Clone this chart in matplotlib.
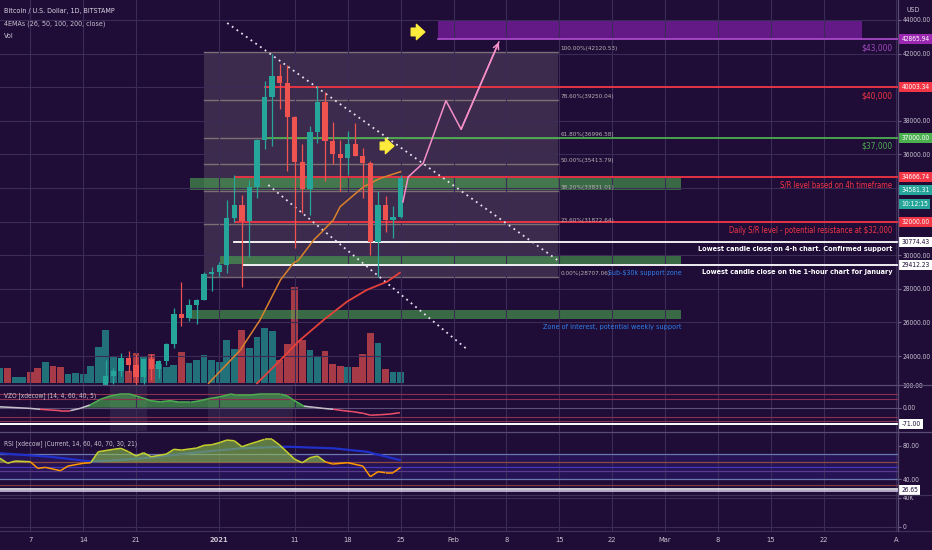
import numpy as np
import matplotlib
matplotlib.use("Agg")
import matplotlib.pyplot as plt
from matplotlib.collections import LineCollection
from matplotlib.lines import Line2D
from matplotlib.transforms import blended_transform_factory as blend

BG = "#1f0c37"; GRID = "#3a2b57"; TXT = "#c9c3d1"
UP, DN = "#26a69a", "#ef5350"
RED, GREEN, PURPLE, BLUE = "#f23645", "#4caf50", "#9c27b0", "#2f80ed"
plt.rcParams["font.family"] = ["DejaVu Sans"]
plt.rcParams["font.stretch"] = "condensed"

# x = days from 1 Jan 2021
candle_days = list(range(-15, 25))
opens  = [21340, 22800, 23130, 23860, 23480, 22740, 23820, 23250, 23720, 24700, 26480, 26280, 27030, 27360,
          28880, 28990, 29400, 32200, 33000, 32030, 34030, 36850, 39400, 40670, 40240, 38240, 35550, 33950,
          37350, 39100, 36770, 36000, 35800, 36600, 35900, 35500, 30800, 33000, 32100, 32300]
highs  = [23770, 23270, 24170, 24290, 24100, 23850, 24100, 23770, 24750, 26870, 28400, 27400, 27370, 28990,
          29300, 29600, 33300, 34800, 33600, 34500, 36900, 40360, 41950, 41380, 41350, 38260, 36600, 37700,
          40100, 39700, 37950, 36850, 37400, 37850, 36400, 35600, 33850, 33500, 32950, 34800]
lows   = [21230, 22350, 22800, 23070, 22020, 22350, 22600, 22700, 23440, 24500, 25800, 26100, 25900, 27320,
          27850, 28700, 28950, 32000, 28130, 29900, 33400, 36300, 36500, 38720, 35000, 30400, 32500, 32400,
          36700, 34400, 35400, 33850, 34800, 35900, 33400, 30000, 28700, 31400, 31000, 32200]
closes = [22800, 23130, 23860, 23480, 22740, 23820, 23250, 23720, 24700, 26480, 26280, 27030, 27360, 28880,
          28990, 29400, 32200, 33000, 32030, 34030, 36850, 39400, 40670, 40240, 38240, 35550, 33950, 37350,
          39100, 36770, 36000, 35800, 36600, 35900, 35500, 30800, 33000, 32100, 32300, 34581.31]

vol_days = list(range(-29, 25))
volume = [7.3, 7.3, 3.2, 3.2, 5.3, 7.3, 10.7, 8.5, 7.8, 4.5, 5.2, 4.5, 8.5, 17.8, 26.5, 13.5, 11.5, 6.2, 15.2,
          12.8, 14.5, 9.3, 8.2, 9.0, 15.7, 9.8, 11.5, 14.0, 11.5, 10.7, 21.5, 16.8, 26.5, 17.5, 22.8, 27.3,
          26.2, 11.5, 19.3, 47.8, 21.5, 16.5, 13.2, 16.0, 9.5, 8.5, 7.8, 8.2, 14.5, 25.2, 20.2, 6.8, 5.7, 5.7]
vol_up = [1, 0, 1, 1, 0, 0, 1, 0, 0, 1, 1, 1, 1, 1, 1, 1, 1, 0, 0, 1, 0, 1, 1, 1, 0, 1, 1, 1, 1,
          1, 1, 1, 0, 1, 1, 1, 1, 0, 0, 0, 0, 1, 1, 0, 0, 0, 1, 0, 0, 0, 1, 0, 1, 1]

ema_a_days = [-1.4, 2.8, 5.4, 8.1, 9.8, 10.5, 12.5, 13.4, 15.1, 16.0, 19.1, 21.3, 24.0]
ema_a = [22375, 24357, 26143, 28524, 29518, 29714, 30905, 31304, 32095, 32887, 34077, 34577, 34970]
ema_b_days = [5.0, 8.1, 10.7, 13.8, 16.9, 19.5, 22.2, 23.9]
ema_b = [22375, 23762, 24952, 26143, 27232, 27929, 28423, 28958]

proj_days = [24.3, 25.0, 27.0, 30.0, 32.0, 37.0]
proj_px = [33167, 34655, 35488, 39196, 37494, 42690]

trend_hi_days, trend_hi_px = [1.06, 45.1], [43821, 29595]
trend_lo_days, trend_lo_px = [6.5, 32.9], [34179, 24357]

fib_pct = ["100.00%", "78.60%", "61.80%", "50.00%", "38.20%", "23.60%", "0.00%"]
fib_px = [42120.53, 39250.04, 36996.58, 35413.79, 33831.01, 31872.64, 28707.06]
fib_start, fib_end = -2.0, 44.8

zone_tops = [34600, 30000, 26750]
zone_bots = [33900, 29450, 26200]
zone_starts = [-3.8, 0.1, -3.8]
zone_end = 61.1

level_px = [40003.34, 37000, 34666.74, 32000, 30774.43, 29412.23]
level_start = [6.1, 6.5, 2.1, 2.1, 2.0, 3.1]
level_col = [RED, GREEN, RED, RED, "white", "white"]
level_text = ["$40,000", "$37,000", "S/R level based on 4h timeframe",
              "Daily S/R level - potential resistance at $32,000",
              "Lowest candle close on 4-h chart. Confirmed support",
              "Lowest candle close on the 1-hour chart for January"]
target_top, target_bot, target_start, target_end = 44000, 42865.94, 29.0, 85.0
arrow_days, arrow_px = [26.3, 22.2], [43286, 36500]

vzo_days = [-29, -25, -23.7, -21, -19.7, -18.4, -17.1, -15.7, -14.4, -13.1, -11.8, -10.4, -9.1, -7.8, -6.5,
            -5.2, -3.8, -2.5, -1.2, 0.1, 1.5, 2.3, 4.1, 5.4, 6.7, 8.1, 9.0, 9.8, 11.2, 12.5, 13.8, 15.1,
            16.4, 17.8, 19.1, 20.0, 21.3, 22.6, 23.9]
vzo = [4, -3, -7, -13, -13, -3, 12, 37, 52, 60, 60, 46, 31, 26, 31, 24, 24, 31, 41, 48, 60, 56, 56, 60,
       60, 60, 52, 34, 7, 2, -3, -7, -13, -18, -25, -33, -31, -28, -22]
vzo_levels = [60, 40, 0, -40, -60]

rsi_days = [-29, -28, -27, -25, -24, -23, -21, -20, -18, -17, -16, -14, -13, -12, -11, -10, -9, -7, -6, -5,
            -3, -2, -1, 0, 1, 2, 3, 4, 5, 6, 7, 8, 10, 11, 12, 13, 14, 15, 17, 19, 20, 21, 22, 23, 24]
rsi = [64.9, 58.9, 61.6, 60.8, 52.8, 54, 50, 55.6, 58.9, 59.6, 72.8, 75.7, 76.9, 72.8, 67.6, 71.6, 66.8,
       70, 75.7, 74.8, 77.2, 80.5, 81.2, 83.6, 86.8, 86, 78.8, 82, 84.8, 87.7, 87.7, 80.8, 63.7, 59.6, 65.6,
       67.6, 60.8, 58, 59.6, 55.6, 42.8, 48.8, 47.6, 47.6, 54]
rsi_ma_days = [-29, -22.4, -16.7, -10, -3, 3, 9, 15.1, 19.5, 23.9]
rsi_ma = [70.9, 66.8, 60.8, 65, 72, 77, 78.8, 76.9, 72.8, 62.8]

tick_days = [-25, -18, -11, 0, 10, 17, 24, 31, 38, 45, 52, 59, 66, 73, 80, 89.6]
tick_labels = ["7", "14", "21", "2021", "11", "18", "25", "Feb", "8", "15", "22", "Mar", "8", "15", "22", "A"]

W, H = 932, 550
def rect(top, bottom):
    return [0, 1 - bottom / H, 898 / W, (bottom - top) / H]

fig = plt.figure(figsize=(W / 100, H / 100), dpi=100, facecolor=BG)
axv = fig.add_axes(rect(0, 385), facecolor=BG)
ax = fig.add_axes(rect(0, 385), sharex=axv)
ax.patch.set_alpha(0)
axz = fig.add_axes(rect(385, 431), sharex=axv, facecolor=BG)
axr = fig.add_axes(rect(431, 492), sharex=axv, facecolor=BG)
axb = fig.add_axes(rect(492, 531), sharex=axv, facecolor=BG)

for a in (axv, ax, axz, axr, axb):
    for s in a.spines.values():
        s.set_visible(False)
    a.set_xticks(tick_days)
    a.tick_params(axis="x", length=0, labelbottom=False)
    a.yaxis.tick_right()
    a.tick_params(axis="y", colors="#6d6283", labelcolor=TXT, labelsize=4.8, length=2.3, pad=0.8)
    if a is not axv:
        a.grid(axis="x", color=GRID, lw=0.8)
axv.set_yticks([])
axv.set_xlim(-29, 89.8)
axv.set_ylim(-1, 191.5)

# volume
vcols = [UP if u else DN for u in vol_up]
axv.bar(vol_days, volume, width=0.9, color=vcols, alpha=0.66, lw=0)

# price pane
ax.set_ylim(22274, 45190)
ax.set_yticks(range(24000, 44001, 2000))
ax.set_yticklabels([f"{v:.2f}" for v in range(24000, 44001, 2000)])
ax.grid(axis="y", color=GRID, lw=0.8)

ax.fill_between([fib_start, fib_end], fib_px[-1], fib_px[0], color="#a89a9c", alpha=0.22, lw=0, zorder=1)
for pct, p in zip(fib_pct, fib_px):
    ax.plot([fib_start, fib_end], [p, p], color="#8f8080", lw=1, alpha=0.8, zorder=1.2)
    ax.text(fib_end + 0.4, p + 60, f"{pct}({p:.2f})", color="#b9b0b4", fontsize=4.6, va="bottom", ha="left")
ax.text(51.5, fib_px[-1] + 60, "Sub-$30k support zone", color=BLUE, fontsize=5.0, va="bottom", ha="left")

for t, b, s in zip(zone_tops, zone_bots, zone_starts):
    ax.fill_between([s, zone_end], b, t, color=GREEN, alpha=0.58, lw=0, zorder=1.5)
ax.text(zone_end, 25700, "Zone of interest, potential weekly support", color=BLUE, fontsize=5.2,
        va="center", ha="right")

ax.fill_between([target_start, target_end], target_bot, target_top, color="#7b1fa2", alpha=0.75, lw=0)
ax.plot([target_start, 89.8], [target_bot, target_bot], color="#b04fd0", lw=1.2)
tr = blend(ax.transAxes, ax.transData)
ax.text(0.994, target_bot - 250, "$43,000", transform=tr, color="#a24bc0", fontsize=6.0, ha="right", va="top")

for p, s, c, t in zip(level_px, level_start, level_col, level_text):
    ax.plot([s, 89.8], [p, p], color=c, lw=1.3, zorder=2)
    if c == "white":
        fw, fs = "bold", 5.2
    elif t.startswith("$"):
        fw, fs = "normal", 6.0
    else:
        fw, fs = "normal", 5.5
    ax.text(0.994, p - 250, t, transform=tr, color=c, fontsize=fs, ha="right", va="top", fontweight=fw)

ax.plot(trend_hi_days, trend_hi_px, color="#e8e0f0", lw=1.3, ls=(0, (1, 2.2)))
ax.plot(trend_lo_days, trend_lo_px, color="#e8e0f0", lw=1.3, ls=(0, (1, 2.2)))

ax.plot(ema_a_days, ema_a, color="#d9812c", lw=1.1, zorder=2.5)
ax.plot(ema_b_days, ema_b, color="#e5413a", lw=1.3, zorder=2.5)

o, h, l, c = map(np.array, (opens, highs, lows, closes))
ccol = np.where(c >= o, UP, DN)
ax.vlines(candle_days, l, h, colors=ccol, lw=0.9, zorder=3)
ax.bar(candle_days, np.abs(c - o), bottom=np.minimum(o, c), width=0.7, color=ccol, lw=0, zorder=3)

ax.plot(proj_days, proj_px, color="#f48fc8", lw=1.1, zorder=4)
ax.annotate("", xy=(proj_days[-1], proj_px[-1]), xytext=(proj_days[-2], proj_px[-2]),
            arrowprops=dict(arrowstyle="->", color="#f48fc8", lw=1.1, shrinkA=0, shrinkB=0), zorder=4)
for d, p in zip(arrow_days, arrow_px):
    ax.annotate("", xy=(d + 0.9, p), xytext=(d - 0.9, p), zorder=5,
                arrowprops=dict(arrowstyle="simple,head_length=0.55,head_width=1.0,tail_width=0.5",
                                fc="#ffeb3b", ec="#ffeb3b", mutation_scale=11, shrinkA=0, shrinkB=0))

def tag(axx, text, y, bg, fg, dy=0):
    axx.annotate(text, xy=(1 + 3.5 / 898, y), xycoords=blend(axx.transAxes, axx.transData),
                 xytext=(0, dy), textcoords="offset points", color=fg, fontsize=4.8,
                 va="center", ha="left", annotation_clip=False, zorder=10,
                 bbox=dict(boxstyle="square,pad=0.3", fc=bg, ec="none"))

tag(ax, f"{target_bot:.2f}", target_bot, PURPLE, "white")
tag(ax, f"{level_px[0]:.2f}", level_px[0], RED, "white")
tag(ax, f"{level_px[1]:.2f}", level_px[1], GREEN, "white")
tag(ax, f"{level_px[2]:.2f}", level_px[2], RED, "white")
tag(ax, f"{closes[-1]:.2f}", closes[-1], UP, "white", dy=-8.7)
tag(ax, "10:12:15", closes[-1], UP, "white", dy=-18.3)
tag(ax, f"{level_px[3]:.2f}", level_px[3], RED, "white")
tag(ax, f"{level_px[4]:.2f}", level_px[4], "white", BG)
tag(ax, f"{level_px[5]:.2f}", level_px[5], "white", BG)
fig.text(913 / W, 1 - 10 / H, "USD", color=TXT, fontsize=5.0, ha="center", va="center")

def seg_line(axx, xs, ys, colfn, lw):
    pts = np.column_stack([xs, ys])
    segs = np.stack([pts[:-1], pts[1:]], axis=1)
    ys = np.asarray(ys, float)
    mids = (ys[:-1] + ys[1:]) / 2
    axx.add_collection(LineCollection(segs, colors=[colfn(m) for m in mids], linewidths=lw, zorder=4))

# VZO pane
axz.set_ylim(-102.6, 100)
axz.set_yticks([100, 0])
axz.set_yticklabels(["100.00", "0.00"])
axz.axvspan(-14.4, -9.5, color="#8a7f99", alpha=0.15, lw=0)
axz.axvspan(-1.5, 9.8, color="#8a7f99", alpha=0.15, lw=0)
for lv in vzo_levels:
    axz.axhline(lv, color="#8a3050" if lv else "#5c4f7a", lw=0.8)
axz.axhline(-71, color="white", lw=1.4)
vz = np.array(vzo, float)
axz.fill_between(vzo_days, vz, 0, where=vz > 0, interpolate=True, color=GREEN, alpha=0.62, lw=0)
seg_line(axz, vzo_days, vzo, lambda m: "#4caf50" if m >= 10 else ("#f0506a" if m <= -10 else "#c8c0cc"), 1.1)
tag(axz, "-71.00", -71, "white", BG)

# RSI pane
axr.set_ylim(24.4, 97.7)
axr.set_yticks([80, 40])
axr.set_yticklabels(["80.00", "40.00"])
axr.axhspan(40, 70, color="#3a26a8", alpha=0.28, lw=0)
for lv, col in [(70, "#6a78b0"), (60, "#8a4a40"), (55, "#4636b8"), (50, "#5a3a8a"), (40, "#6a78b0"), (33, "#7a3a48")]:
    axr.axhline(lv, color=col, lw=0.9)
axr.axhline(28.5, color="white", lw=1.1)
axr.axhline(26.2, color="#dcd6f0", lw=1.1)
axr.plot(rsi_ma_days, rsi_ma, color="#2030c8", lw=1.6, zorder=2)
rv = np.array(rsi, float)
axr.fill_between(rsi_days, rv, 60, where=rv > 60, interpolate=True, color="#8bc34a", alpha=0.6, lw=0, zorder=3)
seg_line(axr, rsi_days, rsi, lambda m: "#c6cf2e" if m >= 60 else "#ff9800", 1.1)
tag(axr, "26.65", 26.65, "white", BG)

# bottom volume pane
axb.set_ylim(-5930, 47860)
axb.set_yticks([0, 40000])
axb.set_yticklabels(["0", "40K"])
axb.grid(axis="y", color=GRID, lw=0.8)
axb.tick_params(axis="x", labelbottom=True, labelcolor=TXT, labelsize=5.4, pad=4.5)
axb.set_xticklabels(tick_labels)
for lab in axb.get_xticklabels():
    if lab.get_text() == "2021":
        lab.set_fontweight("bold")

# pane separators and price axis line
for yp, col in [(385, "#5a4d72"), (431.5, "#5a4d72"), (495, "#3e3256"), (531, "#3e3256")]:
    fig.add_artist(Line2D([0, 1], [1 - yp / H] * 2, color=col, lw=0.9))
fig.add_artist(Line2D([898 / W] * 2, [1 - 531 / H, 1], color="#5a4d72", lw=0.9))

fig.text(4 / W, 1 - 11 / H, "Bitcoin / U.S. Dollar, 1D, BITSTAMP", color="#ddd6e6", fontsize=5.1, va="center")
fig.text(4 / W, 1 - 24 / H, "4EMAs (26, 50, 100, 200, close)", color=TXT, fontsize=5.1, va="center")
fig.text(4 / W, 1 - 36 / H, "Vol", color=TXT, fontsize=5.1, va="center")
fig.text(4 / W, 1 - 396 / H, "VZO [xdecow] (14, 4, 60, 40, 5)", color=TXT, fontsize=4.7, va="center")
fig.text(4 / W, 1 - 444 / H, "RSI [xdecow] (Current, 14, 60, 40, 70, 30, 21)", color=TXT, fontsize=4.7, va="center")

fig.savefig("out.png", dpi=100, facecolor=BG)
